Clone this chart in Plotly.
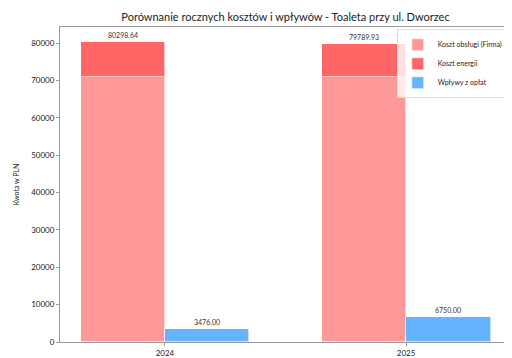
import plotly.graph_objects as go

years = ["2024", "2025"]
koszt_firma = [70850.0, 70850.0]
koszt_energii = [9448.64, 8939.93]
wplywy = [3476.00, 6750.00]
y_ticks = [0, 10000, 20000, 30000, 40000, 50000, 60000, 70000, 80000]

totals = [a + b for a, b in zip(koszt_firma, koszt_energii)]
x_cost = [i - 0.175 for i in range(len(years))]
x_inc = [i + 0.175 for i in range(len(years))]

FONT = "Lato"
edge = dict(color="rgba(255,255,255,0.6)", width=1)
fig = go.Figure()
fig.add_bar(x=x_cost, y=koszt_firma, width=0.35, name="Koszt obsługi (Firma)",
            marker=dict(color="#ff9999", line=edge))
fig.add_bar(x=x_cost, y=koszt_energii, width=0.35, name="Koszt energii",
            marker=dict(color="#ff6666", line=edge))
fig.add_bar(x=x_inc, y=wplywy, width=0.35, name="Wpływy z opłat",
            marker=dict(color="#66b3ff", line=edge))

for xc, t in zip(x_cost, totals):
    fig.add_annotation(x=xc, y=t, text=f"{t:.2f}", showarrow=False, yanchor="bottom",
                       yshift=1, font=dict(size=7, color="#333"))
for xi, w in zip(x_inc, wplywy):
    fig.add_annotation(x=xi, y=w, text=f"{w:.2f}", showarrow=False, yanchor="bottom",
                       yshift=1, font=dict(size=7, color="#333"))

ymax = max(totals + wplywy) * 1.05
fig.update_layout(
    width=512, height=358, barmode="stack",
    margin=dict(l=50, r=8, t=19, b=21),
    paper_bgcolor="white", plot_bgcolor="white",
    font=dict(family=FONT, size=8, color="#222"),
    title=dict(text="Porównanie rocznych kosztów i wpływów - Toaleta przy ul. Dworzec",
               x=0.5, xanchor="center", xref="paper", y=0.985, yanchor="top",
               font=dict(size=11, color="#222")),
    showlegend=True,
    legend=dict(x=0.995, y=0.993, xanchor="right", yanchor="top", traceorder="normal",
                bgcolor="rgba(255,255,255,0.8)", bordercolor="#ddd", borderwidth=1,
                font=dict(size=7), itemwidth=30, tracegroupgap=0),
    bargap=0,
)
fig.update_xaxes(range=[-0.435, 1.435], tickvals=list(range(len(years))), ticktext=years,
                 showline=True, linecolor="#999", linewidth=1, mirror=True,
                 ticks="outside", ticklen=3, tickcolor="#999", showgrid=False, zeroline=False)
fig.update_yaxes(range=[0, ymax], tickvals=y_ticks, ticktext=[str(v) for v in y_ticks],
                 showline=True, linecolor="#999", linewidth=1, mirror=True,
                 ticks="outside", ticklen=3, tickcolor="#999", showgrid=False, zeroline=False,
                 title=dict(text="Kwota w PLN", font=dict(size=7), standoff=10))
fig.write_html("out.html")
